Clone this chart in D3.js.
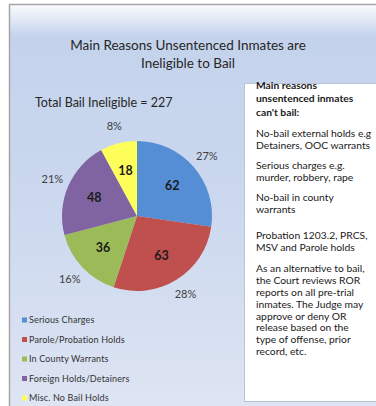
<!DOCTYPE html>
<html>
<head>
<meta charset="utf-8">
<script src="https://cdn.jsdelivr.net/npm/d3@7"></script>
<style>
  html, body { margin: 0; padding: 0; background: #fff; }
  svg { display: block; }
  text { font-family: Lato, "Open Sans", sans-serif; }
</style>
</head>
<body>
<svg id="chart" width="376" height="406"></svg>
<script>
// Reasons inmates cannot bail, with head counts
const categories = ["Serious Charges", "Parole/Probation Holds", "In County Warrants", "Foreign Holds/Detainers", "Misc. No Bail Holds"];
const counts = [62, 63, 36, 48, 18];
const sliceColors = ["#558ed5", "#c0504d", "#9bbb59", "#8064a2", "#ffff5c"];

const titleLines = ["Main Reasons Unsentenced Inmates are", "Ineligible to Bail"];
const subtitle = "Total Bail Ineligible = 227";

// Side note paragraphs (first one is the bold heading)
const noteHeading = ["Main reasons", "unsentenced inmates", "can't bail:"];
const noteParagraphs = [
  ["No-bail external holds e.g", "Detainers, OOC warrants"],
  ["Serious charges e.g.", "murder, robbery, rape"],
  ["No-bail  in county", "warrants"],
  ["Probation  1203.2, PRCS,", "MSV and Parole holds"],
  ["As an alternative to bail,", "the Court reviews ROR", "reports on all pre-trial", "inmates. The Judge may", "approve or deny OR", "release  based on the", "type of offense, prior", "record, etc."]
];

const svg = d3.select("#chart");
const W = 376, H = 406;

// Chart area background with vertical gradient
const defs = svg.append("defs");
const grad = defs.append("linearGradient").attr("id", "bg").attr("x1", 0).attr("y1", 0).attr("x2", 0).attr("y2", 1);
grad.append("stop").attr("offset", "0%").attr("stop-color", "#fbfcfe");
grad.append("stop").attr("offset", "8%").attr("stop-color", "#c4d3ec");
grad.append("stop").attr("offset", "45%").attr("stop-color", "#cad7ee");
grad.append("stop").attr("offset", "100%").attr("stop-color", "#dee5f3");

svg.append("rect").attr("x", 9).attr("y", 4).attr("width", W).attr("height", H)
  .attr("fill", "url(#bg)");
svg.append("line").attr("x1", 9).attr("y1", 4.5).attr("x2", W).attr("y2", 4.5)
  .attr("stroke", "#a6a6a6").attr("stroke-width", 1.5);
svg.append("line").attr("x1", 9.5).attr("y1", 4).attr("x2", 9.5).attr("y2", H)
  .attr("stroke", "#a6a6a6").attr("stroke-width", 1.5);

// Title
svg.append("g").selectAll("text").data(titleLines).join("text")
  .attr("x", 188).attr("y", (d, i) => 49.5 + i * 18)
  .attr("text-anchor", "middle")
  .attr("font-size", 13.5).attr("fill", "#262626")
  .text(d => d);

svg.append("text").attr("x", 35).attr("y", 107)
  .attr("font-size", 12.5).attr("fill", "#262626")
  .text(subtitle);

// Pie
const cx = 137, cy = 216, r = 75;
const total = d3.sum(counts);
const data = categories.map((c, i) => ({ category: c, value: counts[i], color: sliceColors[i] }));
const pie = d3.pie().value(d => d.value).sort(null);
const arcs = pie(data);
const arc = d3.arc().innerRadius(0).outerRadius(r);
const inner = d3.arc().innerRadius(r * 0.62).outerRadius(r * 0.62);
const outer = d3.arc().innerRadius(r * 1.23).outerRadius(r * 1.23);

const g = svg.append("g").attr("transform", `translate(${cx},${cy})`);
g.selectAll("path").data(arcs).join("path")
  .attr("d", arc).attr("fill", d => d.data.color);

g.selectAll("text.val").data(arcs).join("text")
  .attr("class", "val")
  .attr("transform", d => `translate(${inner.centroid(d)})`)
  .attr("text-anchor", "middle").attr("dy", "0.35em")
  .attr("font-size", 12.5).attr("font-weight", "bold").attr("fill", "#1a1a1a")
  .text(d => d.data.value);

g.selectAll("text.pct").data(arcs).join("text")
  .attr("class", "pct")
  .attr("transform", d => `translate(${outer.centroid(d)})`)
  .attr("text-anchor", "middle").attr("dy", "0.35em")
  .attr("font-size", 11).attr("fill", "#404040")
  .text(d => Math.round(d.data.value / total * 100) + "%");

// Legend
const legend = svg.append("g").selectAll("g").data(data).join("g")
  .attr("transform", (d, i) => `translate(22,${320 + i * 19.5})`);
legend.append("rect").attr("x", 0).attr("y", -2.5).attr("width", 5).attr("height", 5)
  .attr("fill", d => d.color);
legend.append("text").attr("x", 7).attr("dy", "0.35em")
  .attr("font-size", 9).attr("letter-spacing", 0.15).attr("fill", "#333")
  .text(d => d.category);

// Note box
svg.append("rect").attr("x", 244.5).attr("y", 83.5).attr("width", 140).attr("height", 318)
  .attr("fill", "#fff").attr("stroke", "#b9c3d3").attr("stroke-width", 1);

const note = svg.append("text").attr("font-size", 10.3).attr("fill", "#1a1a1a");
const noteX = 256, headStep = 13.8, lineStep = 11.8;
const paraGaps = [9, 8.5, 8.5, 14, 10];
let y = 88.5;
noteHeading.forEach(line => {
  note.append("tspan").attr("x", noteX).attr("y", y).attr("font-weight", "bold").text(line);
  y += headStep;
});
y -= headStep;
noteParagraphs.forEach((p, k) => {
  y += lineStep + paraGaps[k];
  p.forEach((line, j) => {
    if (j > 0) y += lineStep;
    note.append("tspan").attr("x", noteX).attr("y", y).text(line);
  });
});
</script>
</body>
</html>
